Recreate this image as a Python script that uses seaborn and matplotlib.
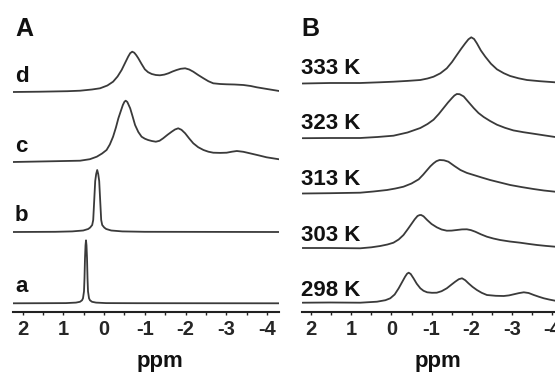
import matplotlib
matplotlib.use("Agg")
import matplotlib.pyplot as plt
import seaborn as sns
import pandas as pd
from matplotlib.ticker import MultipleLocator, FixedLocator

# ---------------- data (ppm, intensity above own baseline) ----------------
tick_values = [2, 1, 0, -1, -2, -3, -4]
tick_labels = ["2", "1", "0", "-1", "-2", "-3", "-4"]

# Panel A
a_ppm = [2.24, 1.5, 0.937, 0.691, 0.593, 0.543, 0.519, 0.494, 0.482, 0.470, 0.457, 0.445,
         0.433, 0.420, 0.408, 0.396, 0.371, 0.347, 0.297, 0.199, -0.047, -0.8, -4.3]
a_int = [0, 0.1, 0.2, 0.7, 1.5, 3, 5, 12, 25, 45, 58, 63, 58, 45, 25, 12, 5, 3, 1.5, 0.7, 0.2, 0.1, 0]

b_ppm = [2.24, 1.2, 0.785, 0.514, 0.391, 0.342, 0.293, 0.268, 0.244, 0.219, 0.195, 0.17,
         0.145, 0.121, 0.096, 0.072, 0.047, -0.002, -0.051, -0.174, -0.445, -1.0, -4.3]
b_int = [0, 0.2, 0.6, 1.5, 3, 4.5, 7, 12, 31, 51, 58, 62, 58, 51, 31, 12, 7, 4.5, 3, 1.5, 0.6, 0.2, 0]

c_ppm = [2.24, 1.33, 0.59, 0.35, 0.18, 0.05, -0.06, -0.14, -0.22, -0.29, -0.35, -0.41, -0.46,
         -0.50, -0.53, -0.57, -0.64, -0.70, -0.76, -0.84, -0.92, -1.00, -1.08, -1.17, -1.27,
         -1.36, -1.45, -1.56, -1.66, -1.74, -1.82, -1.90, -1.99, -2.09, -2.19, -2.31, -2.44,
         -2.56, -2.68, -2.85, -3.01, -3.14, -3.26, -3.42, -3.58, -3.80, -3.99, -4.30]
c_int = [0, 0.7, 1.3, 2.8, 5.3, 8.5, 12, 17.5, 25.3, 34.5, 43.7, 51, 57, 60.3, 61.3, 60, 53.7,
         45.5, 37, 30, 25.3, 23.3, 22, 21, 20.3, 21.2, 23.7, 27.3, 30.3, 32.5, 33.7, 32.2, 28.7,
         23.5, 18.7, 14.8, 12, 10.3, 9.3, 9.1, 9.3, 10.3, 11, 10.2, 8.7, 6.6, 4.7, 2.7]

d_ppm = [2.24, 1.58, 0.90, 0.59, 0.30, 0.10, -0.08, -0.22, -0.33, -0.43, -0.52, -0.59, -0.64,
         -0.69, -0.74, -0.79, -0.84, -0.92, -1.00, -1.08, -1.17, -1.27, -1.37, -1.48, -1.58,
         -1.68, -1.78, -1.88, -1.99, -2.09, -2.19, -2.31, -2.44, -2.56, -2.68, -2.85, -3.01,
         -3.20, -3.42, -3.60, -3.75, -4.00, -4.30]
d_int = [0, 0.3, 0.8, 1.3, 2.5, 3.7, 6.5, 10.3, 15.5, 22, 29.5, 35.3, 38.8, 40.3, 39.3, 36.8,
         33.7, 28, 22.7, 19.8, 18, 17, 16.7, 17.4, 18.7, 20.5, 22, 23.2, 23.7, 22.5, 20.3, 17,
         13.7, 10.8, 8.7, 8, 7.7, 7.5, 7, 6, 4.7, 3, 1]

# Panel B (temperature series)
t298_ppm = [2.22, 1.53, 0.78, 0.36, 0.15, 0.03, -0.08, -0.18, -0.26, -0.34, -0.39, -0.43,
            -0.48, -0.55, -0.63, -0.72, -0.80, -0.89, -1.01, -1.13, -1.25, -1.38, -1.49,
            -1.59, -1.68, -1.76, -1.84, -1.92, -2.02, -2.13, -2.25, -2.38, -2.60, -2.80,
            -2.93, -3.05, -3.18, -3.30, -3.42, -3.55, -3.68, -3.80, -3.94, -4.08, -4.36]
t298_int = [0.3, 0.5, 0.3, 1.3, 2.8, 4.7, 8.5, 14.7, 20.5, 26.3, 29.3, 30.3, 29, 24.7, 19.3,
            14.7, 12.2, 10.7, 10.2, 10.3, 11.8, 14.7, 18.2, 21.3, 23.8, 24.7, 22.8, 19.7, 16.2,
            13, 10.2, 8, 7.2, 7, 7.6, 8.7, 9.9, 10.7, 10, 8, 6.2, 4.7, 3.4, 2.3, 1.5]

t303_ppm = [2.22, 1.53, 0.78, 0.50, 0.28, 0.10, -0.05, -0.18, -0.30, -0.41, -0.51, -0.58,
            -0.65, -0.70, -0.74, -0.80, -0.89, -1.00, -1.13, -1.25, -1.38, -1.50, -1.63,
            -1.76, -1.88, -1.98, -2.09, -2.23, -2.38, -2.54, -2.71, -2.95, -3.21, -3.42,
            -3.63, -3.85, -4.08, -4.36]
t303_int = [0.5, 0.5, 0.2, 1.2, 2.5, 4, 5.8, 9, 13.5, 19.5, 25.2, 29.2, 32.5, 33.4, 33.5, 32.2,
            28.5, 24.5, 21.2, 19, 17.8, 17.9, 18.5, 19.1, 19.2, 18.4, 16.8, 14.2, 11.8, 10,
            8.5, 7, 5.8, 4.6, 3.5, 2.6, 1.8, 1.2]

t313_ppm = [2.22, 1.53, 0.78, 0.45, 0.11, -0.10, -0.30, -0.50, -0.68, -0.79, -0.89, -0.97,
            -1.05, -1.12, -1.20, -1.31, -1.42, -1.57, -1.72, -1.88, -2.05, -2.25, -2.46,
            -2.71, -2.96, -3.25, -3.54, -3.80, -4.08, -4.36]
t313_int = [0, 0.3, 0.8, 2, 3.5, 5, 6.8, 10, 14.2, 18.8, 23.5, 27.2, 30.2, 32.3, 33.5, 33.2,
            31.8, 27.5, 23.5, 20.6, 18.5, 16, 13.5, 11, 8.5, 6.4, 4.5, 3, 1.8, 1.2]

t323_ppm = [2.22, 1.53, 0.78, 0.35, -0.05, -0.40, -0.72, -0.90, -1.05, -1.18, -1.30, -1.41,
            -1.51, -1.57, -1.63, -1.70, -1.80, -1.92, -2.05, -2.17, -2.30, -2.46, -2.63,
            -2.83, -3.04, -3.29, -3.54, -3.80, -4.08, -4.36]
t323_int = [0.3, 0.5, 0.5, 1.5, 2.8, 6, 10.5, 14.5, 18.8, 24.5, 30.5, 36, 40.5, 43, 44.5, 44.3,
            42.1, 36.5, 30.5, 25.5, 21.5, 17.5, 13.8, 10.7, 8.1, 6.3, 4.8, 3.2, 1.5, 1.0]

t333_ppm = [2.22, 1.53, 0.78, 0.30, -0.05, -0.40, -0.72, -0.90, -1.05, -1.22, -1.38, -1.51,
            -1.63, -1.74, -1.84, -1.92, -1.99, -2.06, -2.13, -2.23, -2.34, -2.48, -2.63,
            -2.80, -2.96, -3.17, -3.38, -3.70, -4.08, -4.36]
t333_int = [0, 0.5, 0.5, 1.2, 1.8, 2.6, 3.5, 5, 6.8, 10.2, 15.2, 21.5, 28.5, 34.8, 40.2, 44.2,
            46.2, 44.5, 40.2, 33, 26.8, 19.8, 14.2, 10.3, 7.5, 5.2, 3.5, 2.3, 1.2, 1.0]

a_labels = ["a", "b", "c", "d"]
b_labels = ["298 K", "303 K", "313 K", "323 K", "333 K"]

# ---------------- layout ----------------
W, H = 555, 372
sns.set_style("white")
plt.rcParams['font.family'] = ['Liberation Sans', 'DejaVu Sans']
plt.rcParams['font.weight'] = 'bold'

fig = plt.figure(figsize=(W / 100, H / 100), dpi=100)
fig.patch.set_facecolor("white")


def px_axes(x0, x1, ytop, ybot):
    return fig.add_axes([x0 / W, 1 - ybot / H, (x1 - x0) / W, (ybot - ytop) / H])


axA = px_axes(13, 279, 0, 312)
axB = px_axes(301.7, 563.7, 0, 312)

LINE = "#3a3a3a"
A_offsets = [8.7, 80, 150, 220]
B_offsets = [9, 63.5, 118.5, 173.5, 228.5]
A_series = [(a_ppm, a_int), (b_ppm, b_int), (c_ppm, c_int), (d_ppm, d_int)]
B_series = [(t298_ppm, t298_int), (t303_ppm, t303_int), (t313_ppm, t313_int),
            (t323_ppm, t323_int), (t333_ppm, t333_int)]

for ax, series, offs in [(axA, A_series, A_offsets), (axB, B_series, B_offsets)]:
    for (xs, ys), off in zip(series, offs):
        df = pd.DataFrame({"ppm": xs, "y": [v + off for v in ys]})
        sns.lineplot(data=df, x="ppm", y="y", ax=ax, color=LINE, lw=1.3, sort=False,
                     estimator=None)
    ax.set_xlim(2.238, -4.295)
    ax.set_ylim(0, 312)
    ax.set_xlabel("")
    ax.set_ylabel("")
    ax.set_yticks([])
    for s in ["left", "right", "top"]:
        ax.spines[s].set_visible(False)
    ax.spines["bottom"].set_linewidth(1.5)
    ax.spines["bottom"].set_color("#222222")
    ax.xaxis.set_major_locator(FixedLocator(tick_values))
    ax.set_xticklabels(tick_labels, fontsize=14.5, fontweight="bold")
    ax.xaxis.set_minor_locator(MultipleLocator(0.5))
    ax.tick_params(axis="x", which="both", direction="out", length=2.5, width=1,
                   color="#222222", pad=3, bottom=True)
    ax.patch.set_alpha(0)


def ptext(x, y, s, size):
    fig.text(x / W, 1 - y / H, s, fontsize=size, fontweight="bold", va="baseline",
             ha="left", color="#111111")


ptext(15, 36, "A", 18)
ptext(301, 36, "B", 18)
for lab, yb in zip(a_labels, [292, 221, 151.7, 81.7]):
    ptext(15, yb, lab, 16)
for lab, yb in zip(b_labels, [296, 241, 185, 129.3, 74]):
    ptext(301, yb, lab, 16)

fig.text(160 / W, 1 - 366.5 / H, "ppm", fontsize=16, fontweight="bold", ha="center",
         va="baseline", color="#111111")
fig.text(437.7 / W, 1 - 366.5 / H, "ppm", fontsize=16, fontweight="bold", ha="center",
         va="baseline", color="#111111")

fig.savefig("out.png", dpi=100, facecolor="white")
